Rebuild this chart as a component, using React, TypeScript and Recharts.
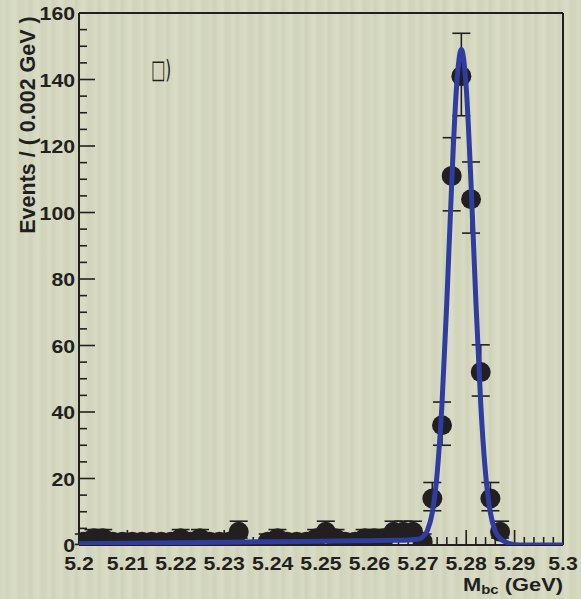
import { ComposedChart, ErrorBar, Line, ReferenceLine, Scatter, XAxis, YAxis } from 'recharts';

const INK = '#231f20';
const BLUE = '#2f3ca0';
const FONT = '"Liberation Sans", Arial, Helvetica, sans-serif';

// bin centres (0.002 GeV bins) that hold at least one event
const binCenter = [
  5.201, 5.203, 5.205, 5.207, 5.209, 5.211, 5.213, 5.215, 5.217, 5.219, 5.221, 5.223, 5.225, 5.227,
  5.229, 5.231, 5.233, 5.239, 5.241, 5.243, 5.245, 5.247, 5.249, 5.251, 5.253, 5.255, 5.257, 5.259,
  5.261, 5.263, 5.265, 5.267, 5.269, 5.271, 5.273, 5.275, 5.277, 5.279, 5.281, 5.283, 5.285, 5.287,
];
const events = [
  1, 2, 2, 1, 1, 1, 1, 1, 1, 1, 2, 1, 2, 1,
  1, 1, 4, 1, 2, 1, 1, 1, 2, 4, 2, 1, 1, 2,
  2, 2, 4, 4, 4, 1, 14, 36, 111, 141, 104, 52, 14, 4,
];
const errLow = [
  0.83, 1.29, 1.29, 0.83, 0.83, 0.83, 0.83, 0.83, 0.83, 0.83, 1.29, 0.83, 1.29, 0.83,
  0.83, 0.83, 1.91, 0.83, 1.29, 0.83, 0.83, 0.83, 1.29, 1.91, 1.29, 0.83, 0.83, 1.29,
  1.29, 1.29, 1.91, 1.91, 1.91, 0.83, 3.7, 6.0, 10.5, 11.9, 10.2, 7.2, 3.7, 1.91,
];
const errHigh = [
  2.3, 2.64, 2.64, 2.3, 2.3, 2.3, 2.3, 2.3, 2.3, 2.3, 2.64, 2.3, 2.64, 2.3,
  2.3, 2.3, 3.16, 2.3, 2.64, 2.3, 2.3, 2.3, 2.64, 3.16, 2.64, 2.3, 2.3, 2.64,
  2.64, 2.64, 3.16, 3.16, 3.16, 2.3, 4.8, 7.0, 11.5, 12.9, 11.2, 8.2, 4.8, 3.16,
];

// fit curve
const fitX = [
  5.2, 5.21, 5.22, 5.23, 5.24, 5.25, 5.26, 5.265, 5.268, 5.27, 5.271, 5.272, 5.273, 5.274, 5.275,
  5.276, 5.277, 5.278, 5.279, 5.28, 5.281, 5.282, 5.283, 5.284, 5.285, 5.286, 5.287, 5.288, 5.289,
  5.29, 5.292, 5.3,
];
const fitY = [
  0.4, 0.55, 0.7, 0.85, 1.0, 1.15, 1.3, 1.4, 1.5, 1.7, 2.4, 4.4, 9.8, 21.5, 42.5,
  73.3, 108.6, 137.7, 149, 137.7, 108.6, 73.3, 42.5, 21.5, 9.7, 4.2, 2.0, 1.0, 0.4,
  0.1, 0, 0,
];

const xMajor = [5.2, 5.21, 5.22, 5.23, 5.24, 5.25, 5.26, 5.27, 5.28, 5.29, 5.3];
const xMajorLabels = ['5.2', '5.21', '5.22', '5.23', '5.24', '5.25', '5.26', '5.27', '5.28', '5.29', '5.3'];
const yMajor = [0, 20, 40, 60, 80, 100, 120, 140, 160];

const xTicks = Array.from({ length: 51 }, (_, i) => Math.round((5.2 + i * 0.002) * 1000) / 1000);
const yTicks = Array.from({ length: 33 }, (_, i) => i * 5);

const points = binCenter.map((x, i) => ({ x, y: events[i], err: [errLow[i], errHigh[i]] }));
const fit = fitX.map((x, i) => ({ x, fit: fitY[i] }));

const W = 581;
const H = 599;

function XTick(props: any) {
  const { x, y, payload } = props;
  const idx = xMajor.findIndex((m) => Math.abs(m - payload.value) < 1e-6);
  const major = idx >= 0;
  return (
    <g>
      <line x1={x} x2={x} y1={y} y2={y - (major ? 15 : 8)} stroke={INK} strokeWidth={1.6} />
      {major && (
        <text
          transform={`translate(${x},${y + 25}) scale(1.18,1)`}
          textAnchor="middle"
          fontSize={18}
          fontWeight="bold"
          fontFamily={FONT}
          fill={INK}
        >
          {xMajorLabels[idx]}
        </text>
      )}
    </g>
  );
}

function YTick(props: any) {
  const { x, y, payload } = props;
  const major = yMajor.includes(payload.value);
  return (
    <g>
      <line x1={x} x2={x + (major ? 16 : 8)} y1={y} y2={y} stroke={INK} strokeWidth={1.6} />
      {major && (
        <text
          transform={`translate(${x - 4},${y + 7}) scale(1.18,1)`}
          textAnchor="end"
          fontSize={18}
          fontWeight="bold"
          fontFamily={FONT}
          fill={INK}
        >
          {payload.value}
        </text>
      )}
    </g>
  );
}

function Dot(props: any) {
  const { cx, cy } = props;
  return <circle cx={cx} cy={cy} r={10} fill={INK} />;
}

export default function App() {
  return (
    <div
      style={{
        position: 'relative',
        width: W,
        height: H,
        background:
          'repeating-linear-gradient(90deg, #d3d6be 0px, #d8dbc3 4px, #cfd2b9 7px, #d6d9c1 11px, #dadcc6 15px, #d1d4bb 19px, #d3d6be 23px)',
      }}
    >
      <style>{'body{margin:0}'}</style>
      {/* axes, frame and data points */}
      <ComposedChart width={W} height={H} margin={{ top: 13, right: 18, bottom: 24, left: 19 }}>
        <XAxis
          dataKey="x"
          type="number"
          domain={[5.2, 5.3]}
          allowDataOverflow
          ticks={xTicks}
          interval={0}
          height={30}
          tickSize={0}
          tickMargin={0}
          tick={(p: any) => <XTick {...p} />}
          axisLine={{ stroke: INK, strokeWidth: 2 }}
        />
        <YAxis
          type="number"
          domain={[0, 160]}
          allowDataOverflow
          ticks={yTicks}
          interval={0}
          width={60}
          tickSize={0}
          tickMargin={0}
          tick={(p: any) => <YTick {...p} />}
          axisLine={{ stroke: INK, strokeWidth: 2 }}
        />
        <ReferenceLine y={160} stroke={INK} strokeWidth={2} />
        <ReferenceLine x={5.3} stroke={INK} strokeWidth={2} />
        <Scatter data={points} dataKey="y" shape={<Dot />} isAnimationActive={false}>
          <ErrorBar dataKey="err" direction="y" width={9} stroke={INK} strokeWidth={1.6} isAnimationActive={false} />
        </Scatter>
      </ComposedChart>
      {/* fit curve, drawn on top of the points */}
      <div style={{ position: 'absolute', left: 0, top: 0 }}>
        <ComposedChart width={W} height={H} margin={{ top: 13, right: 18, bottom: 54, left: 79 }}>
          <XAxis dataKey="x" type="number" domain={[5.2, 5.3]} allowDataOverflow hide />
          <YAxis type="number" domain={[0, 160]} allowDataOverflow hide />
          <Line
            data={fit}
            dataKey="fit"
            type="monotone"
            dot={false}
            activeDot={false}
            stroke={BLUE}
            strokeWidth={5}
            strokeLinejoin="round"
            isAnimationActive={false}
          />
        </ComposedChart>
      </div>
      <svg width={W} height={H} style={{ position: 'absolute', left: 0, top: 0, pointerEvents: 'none' }}>
        <text
          transform="translate(35,125) rotate(-90)"
          textAnchor="middle"
          fontSize={21.5}
          fontWeight="bold"
          fontFamily={FONT}
          fill={INK}
        >
          Events / ( 0.002 GeV )
        </text>
        <text
          transform="translate(563,591) scale(1.15,1)"
          textAnchor="end"
          fontSize={19}
          fontWeight="bold"
          fontFamily={FONT}
          fill={INK}
        >
          M
          <tspan fontSize={13} dy={3}>bc</tspan>
          <tspan dy={-3}> (GeV)</tspan>
        </text>
        <text transform="translate(151,78) scale(0.8,1.35)" fontSize={19} fontFamily='"DejaVu Sans", sans-serif' fill={INK}>
          □)
        </text>
      </svg>
    </div>
  );
}
